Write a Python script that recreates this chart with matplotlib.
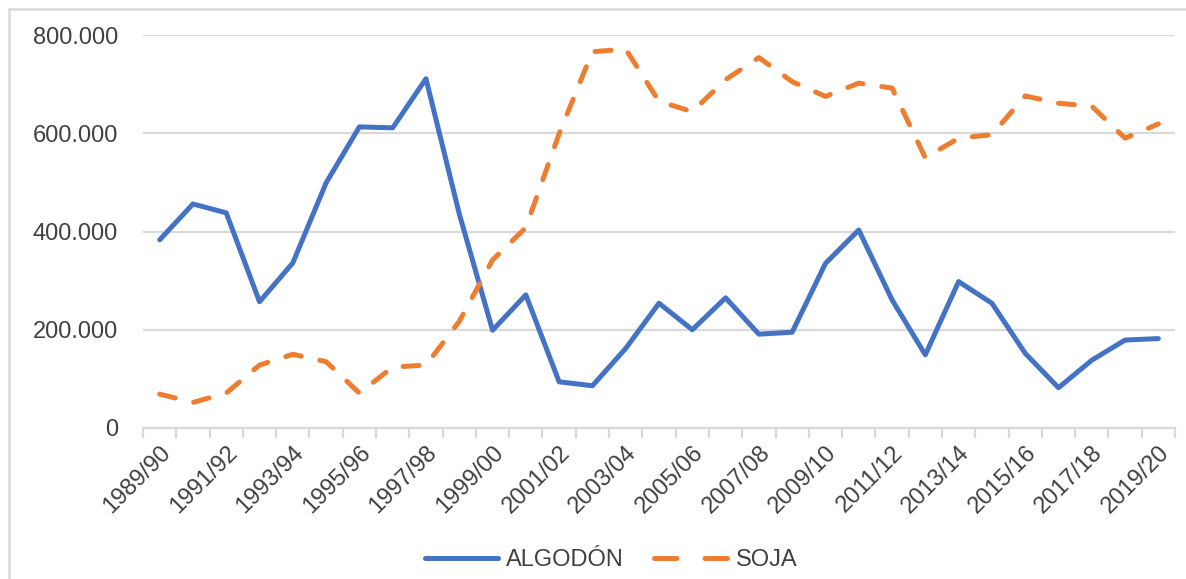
import matplotlib
matplotlib.use("Agg")
from matplotlib import pyplot as plt
from matplotlib.patches import Rectangle
import numpy as np

plt.rcParams['font.family'] = ['Liberation Sans', 'DejaVu Sans']

# campañas 1989/90 - 2019/20
seasons = ['1989/90', '1990/91', '1991/92', '1992/93', '1993/94', '1994/95',
           '1995/96', '1996/97', '1997/98', '1998/99', '1999/00', '2000/01',
           '2001/02', '2002/03', '2003/04', '2004/05', '2005/06', '2006/07',
           '2007/08', '2008/09', '2009/10', '2010/11', '2011/12', '2012/13',
           '2013/14', '2014/15', '2015/16', '2016/17', '2017/18', '2018/19',
           '2019/20']

# valores (miles)
algodon = [383, 456, 438, 257, 336, 499, 613, 611, 711, 436, 199, 271,
           94, 86, 162, 254, 200, 265, 191, 195, 335, 403, 261, 149,
           298, 254, 152, 82, 138, 179, 182]
soja = [69, 52, 71, 128, 150, 135, 71, 124, 128, 217, 342, 408,
        599, 766, 771, 665, 644, 709, 754, 705, 675, 702, 692, 550,
        590, 597, 676, 661, 655, 590, 619]

yticks = [0, 200, 400, 600, 800]
ytick_labels = ['0', '200.000', '400.000', '600.000', '800.000']

blue = '#4472C4'
orange = '#ED7D31'
grid = '#D9D9D9'
txt = '#404040'
fs = 17

fig = plt.figure(figsize=(11.86, 5.79), dpi=100)
ax = fig.add_axes([143 / 1186, 1 - 428 / 579, (1175 - 143) / 1186, (428 - 35) / 579])

x = np.arange(len(seasons))
ax.plot(x, algodon, color=blue, lw=3.6, solid_capstyle='round',
        solid_joinstyle='round', label='ALGODÓN', zorder=3)
ax.plot(x, soja, color=orange, lw=3.6, dashes=(3.2, 3.8), dash_capstyle='round',
        dash_joinstyle='round', label='SOJA', zorder=3)

ax.set_xlim(-0.5, len(seasons) - 0.5)
ax.set_ylim(0, 800)

ax.set_yticks(yticks)
ax.set_yticklabels(ytick_labels, fontsize=fs, color=txt)
ax.tick_params(axis='y', length=0, pad=18)
ax.yaxis.grid(True, color=grid, lw=1.6)
ax.set_axisbelow(True)

ax.set_xticks(x[::2])
ax.set_xticklabels(seasons[::2], fontsize=fs, color=txt, rotation=45,
                   ha='right', va='top', rotation_mode='anchor')
ax.set_xticks(np.arange(-0.5, len(seasons)), minor=True)
ax.tick_params(axis='x', which='major', length=0, pad=10)
ax.tick_params(axis='x', which='minor', length=7, width=1.6, color=grid)

for s in ['top', 'right', 'left']:
    ax.spines[s].set_visible(False)
ax.spines['bottom'].set_color(grid)
ax.spines['bottom'].set_linewidth(1.6)

leg = fig.legend(loc='center', bbox_to_anchor=(611 / 1186, 1 - 560 / 579),
                 ncol=2, frameon=False, fontsize=fs, handlelength=3.1,
                 columnspacing=1.3, handletextpad=0.35)
for t in leg.get_texts():
    t.set_color(txt)
leg.get_lines()[1].set_dashes((4.5, 5.6))
leg.get_lines()[1].set_dash_capstyle('round')

# borde del area del grafico
fig.patches.append(Rectangle((8.5 / 1186, -0.1), 1.2, 1.1 - 9.5 / 579,
                             transform=fig.transFigure, fill=False,
                             edgecolor=grid, lw=1.8))

fig.savefig('out.png', dpi=100)
